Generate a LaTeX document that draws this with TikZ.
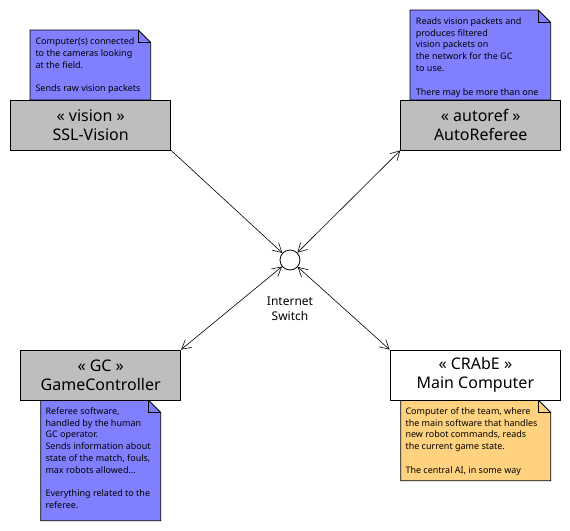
\documentclass[tikz,border=0pt]{standalone}
\usepackage{fontspec}
\setmainfont{Noto Sans}
\usetikzlibrary{arrows.meta}
\definecolor{notebl}{HTML}{8080FF}
\definecolor{noteor}{HTML}{FFD27F}
\definecolor{boxgr}{HTML}{BEBEBE}
\newcommand{\firstl}{\rule{0pt}{8pt}}
\tikzset{
  comp/.style={draw, line width=0.8pt, inner sep=0pt, align=center,
    font=\fontsize{16}{19}\selectfont},
  notetext/.style={anchor=north west, inner sep=0pt, align=left,
    font=\fontsize{9}{11.8}\selectfont},
  notepath/.style={draw, line width=0.8pt},
  link/.style={line width=0.6pt, arrows={-Straight Barb[length=9pt,width=10pt]}},
  blink/.style={line width=0.6pt, arrows={Straight Barb[length=9pt,width=10pt]-Straight Barb[length=9pt,width=10pt]}},
}
\begin{document}
\begin{tikzpicture}[x=1pt,y=-1pt]
\useasboundingbox (0,0) rectangle (570,530);

% notes
\draw[notepath, fill=notebl] (30,30) -- (138.3,30) -- (150.7,42.5) -- (150.7,100) -- (30,100) -- cycle;
\draw[notepath] (138.3,30) -- (138.3,42.5) -- (150.7,42.5);
\node[notetext] (nvis) at (35.3,36.3) {\firstl Computer(s) connected\\to the cameras looking\\at the field.\\[11.8pt]Sends raw vision packets};

\draw[notepath, fill=notebl] (410,10) -- (538.3,10) -- (550.7,22.5) -- (550.7,100) -- (410,100) -- cycle;
\draw[notepath] (538.3,10) -- (538.3,22.5) -- (550.7,22.5);
\node[notetext] (naut) at (415.7,16) {\firstl Reads vision packets and\\produces filtered\\vision packets on\\the network for the GC\\to use.\\[11.8pt]There may be more than one};

\draw[notepath, fill=notebl] (40.7,400) -- (148.3,400) -- (160.7,412.5) -- (160.7,520.7) -- (40.7,520.7) -- cycle;
\draw[notepath] (148.3,400) -- (148.3,412.5) -- (160.7,412.5);
\node[notetext] (ngc) at (45.3,406) {\firstl Referee software,\\handled by the human\\GC operator.\\Sends information about\\state of the match, fouls,\\max robots allowed...\\[11.8pt]Everything related to the\\referee.};

\draw[notepath, fill=noteor] (400.7,400) -- (538.3,400) -- (550.7,412.5) -- (550.7,480.7) -- (400.7,480.7) -- cycle;
\draw[notepath] (538.3,400) -- (538.3,412.5) -- (550.7,412.5);
\node[notetext] (nmain) at (405.3,406) {\firstl Computer of the team, where\\the main software that handles\\new robot commands, reads\\the current game state.\\[11.8pt]The central AI, in some way};

% components
\node[comp, fill=boxgr, minimum width=160pt, minimum height=50pt] (vis) at (90.7,125) {« vision »\\SSL-Vision};
\node[comp, fill=boxgr, minimum width=160pt, minimum height=50pt] (aut) at (480.7,125) {« autoref »\\AutoReferee};
\node[comp, fill=boxgr, minimum width=160pt, minimum height=50pt] (gc) at (100.7,375) {« GC »\\GameController};
\node[comp, fill=white, minimum width=170.7pt, minimum height=50pt] (main) at (475.35,375) {« CRAbE »\\Main Computer};

% switch
\node[draw, circle, line width=0.8pt, minimum size=20pt, inner sep=0pt] (sw) at (290,260) {};
\node[align=center, inner sep=0pt, font=\fontsize{12}{15}\selectfont] (swl) at (290,309) {Internet\\Switch};

% links
\draw[link] (vis.south east) -- (sw);
\draw[blink] (aut.south west) -- (sw);
\draw[blink] (gc.north east) -- (sw);
\draw[blink] (main.north west) -- (sw);
\end{tikzpicture}
\end{document}
